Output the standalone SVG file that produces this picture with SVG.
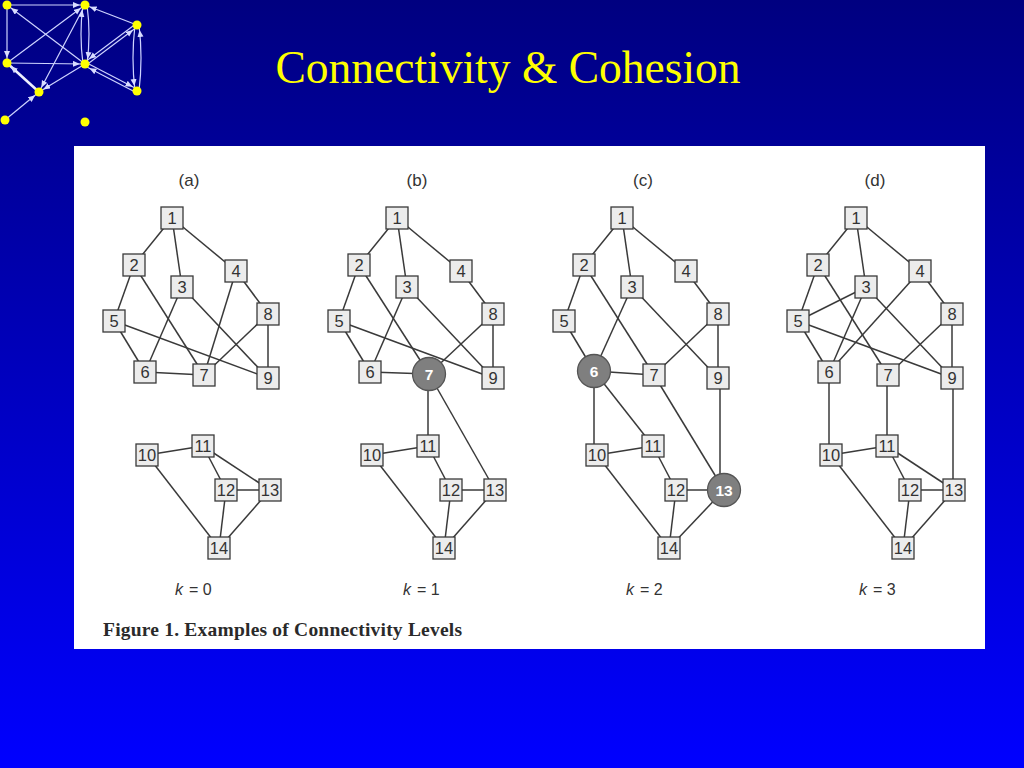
<svg xmlns="http://www.w3.org/2000/svg" width="1024" height="768" viewBox="0 0 1024 768">
<defs>
  <linearGradient id="bg" x1="0" y1="0" x2="0" y2="1">
    <stop offset="0" stop-color="#000080"/>
    <stop offset="1" stop-color="#0000ff"/>
  </linearGradient>
  <marker id="arr" markerUnits="userSpaceOnUse" markerWidth="14" markerHeight="8" refX="12" refY="3" orient="auto">
    <path d="M0,0 L7,3 L0,6 z" fill="#d8dcff"/>
  </marker>
  <style>
    .deco line, .deco path { stroke:#cfd4ff; stroke-width:1.2; fill:none; }
    .dot { fill:#ffff00; }
    .edge line { stroke:#3a3a3a; stroke-width:1.5; }
    .node rect { fill:#ececec; stroke:#3a3a3a; stroke-width:1.3; }
    .node text { font-family:"Liberation Sans", Arial, sans-serif; font-size:16.5px; fill:#333; text-anchor:middle; }
    .hub circle { fill:#7f7f7f; stroke:#555; stroke-width:1.3; }
    .hub text { font-family:"Liberation Sans", Arial, sans-serif; font-size:15.5px; font-weight:bold; fill:#fff; text-anchor:middle; }
    .plabel { font-family:"Liberation Sans", Arial, sans-serif; font-size:17px; fill:#333; text-anchor:middle; }
    .klabel { font-family:"Liberation Sans", Arial, sans-serif; font-size:16px; fill:#333; }
  </style>
</defs>

<rect x="0" y="0" width="1024" height="768" fill="url(#bg)"/>

<!-- decorative network -->
<g id="decoration" class="deco">
  <line x1="7" y1="5" x2="85" y2="5" marker-end="url(#arr)"/>
  <line x1="7" y1="5" x2="7" y2="63" marker-end="url(#arr)"/>
  <line x1="85" y1="64" x2="7" y2="5" marker-end="url(#arr)"/>
  <line x1="7" y1="63" x2="85" y2="5" marker-end="url(#arr)"/>
  <line x1="7" y1="63" x2="85" y2="64" marker-end="url(#arr)"/>
  <line x1="39" y1="92" x2="7" y2="63" style="stroke-width:2.6;stroke:#eef0ff" marker-end="url(#arr)"/>
  <line x1="85" y1="5" x2="39" y2="92" marker-end="url(#arr)"/>
  <path d="M83,64 Q79,34 83,5" marker-end="url(#arr)"/>
  <path d="M87,5 Q91,34 87,64" marker-end="url(#arr)"/>
  <line x1="137" y1="25" x2="85" y2="5" marker-end="url(#arr)"/>
  <line x1="137" y1="23" x2="85" y2="62" marker-end="url(#arr)"/>
  <line x1="85" y1="66" x2="137" y2="27" marker-end="url(#arr)"/>
  <path d="M135,25 Q131,58 135,91" marker-end="url(#arr)"/>
  <path d="M139,91 Q143,58 139,25" marker-end="url(#arr)"/>
  <line x1="85" y1="62" x2="137" y2="89" marker-end="url(#arr)"/>
  <line x1="137" y1="93" x2="85" y2="66" marker-end="url(#arr)"/>
  <line x1="85" y1="64" x2="39" y2="92" marker-end="url(#arr)"/>
  <line x1="5" y1="120" x2="39" y2="92" marker-end="url(#arr)"/>
  <circle class="dot" cx="7" cy="5" r="4.5"/>
  <circle class="dot" cx="85" cy="5" r="4.5"/>
  <circle class="dot" cx="137" cy="25" r="4.5"/>
  <circle class="dot" cx="7" cy="63" r="4.5"/>
  <circle class="dot" cx="85" cy="64" r="4.5"/>
  <circle class="dot" cx="39" cy="92" r="4.5"/>
  <circle class="dot" cx="137" cy="91" r="4.5"/>
  <circle class="dot" cx="5" cy="120" r="4.5"/>
  <circle class="dot" cx="85" cy="122" r="4.5"/>
</g>

<text x="508" y="83" font-family="'Liberation Serif', 'Times New Roman', serif" font-size="45.5" fill="#ffff00" text-anchor="middle">Connectivity &amp; Cohesion</text>

<rect x="74" y="146" width="911" height="503" fill="#ffffff"/>

<!-- Panel (a) -->
<g id="panel-a">
  <text class="plabel" x="189" y="186">(a)</text>
  <g id="a-connectors" class="edge">
    <line x1="172" y1="218" x2="134" y2="265"/>
    <line x1="172" y1="218" x2="182" y2="287"/>
    <line x1="172" y1="218" x2="236" y2="271"/>
    <line x1="134" y1="265" x2="114" y2="321"/>
    <line x1="134" y1="265" x2="204" y2="375"/>
    <line x1="182" y1="287" x2="145" y2="372"/>
    <line x1="182" y1="287" x2="268" y2="378"/>
    <line x1="236" y1="271" x2="204" y2="375"/>
    <line x1="236" y1="271" x2="268" y2="314"/>
    <line x1="114" y1="321" x2="145" y2="372"/>
    <line x1="114" y1="321" x2="268" y2="378"/>
    <line x1="145" y1="372" x2="204" y2="375"/>
    <line x1="268" y1="314" x2="204" y2="375"/>
    <line x1="268" y1="314" x2="268" y2="378"/>
    <line x1="147" y1="455" x2="203" y2="446"/>
    <line x1="147" y1="455" x2="219" y2="548"/>
    <line x1="203" y1="446" x2="226" y2="490"/>
    <line x1="203" y1="446" x2="270" y2="490"/>
    <line x1="226" y1="490" x2="270" y2="490"/>
    <line x1="226" y1="490" x2="219" y2="548"/>
    <line x1="270" y1="490" x2="219" y2="548"/>
  </g>
  <g id="a-n1" class="node"><rect x="161" y="207" width="22" height="22"/><text x="172" y="224">1</text></g>
  <g id="a-n2" class="node"><rect x="123" y="254" width="22" height="22"/><text x="134" y="271">2</text></g>
  <g id="a-n3" class="node"><rect x="171" y="276" width="22" height="22"/><text x="182" y="293">3</text></g>
  <g id="a-n4" class="node"><rect x="225" y="260" width="22" height="22"/><text x="236" y="277">4</text></g>
  <g id="a-n5" class="node"><rect x="103" y="310" width="22" height="22"/><text x="114" y="327">5</text></g>
  <g id="a-n6" class="node"><rect x="134" y="361" width="22" height="22"/><text x="145" y="378">6</text></g>
  <g id="a-n7" class="node"><rect x="193" y="364" width="22" height="22"/><text x="204" y="381">7</text></g>
  <g id="a-n8" class="node"><rect x="257" y="303" width="22" height="22"/><text x="268" y="320">8</text></g>
  <g id="a-n9" class="node"><rect x="257" y="367" width="22" height="22"/><text x="268" y="384">9</text></g>
  <g id="a-n10" class="node"><rect x="136" y="444" width="22" height="22"/><text x="147" y="461">10</text></g>
  <g id="a-n11" class="node"><rect x="192" y="435" width="22" height="22"/><text x="203" y="452">11</text></g>
  <g id="a-n12" class="node"><rect x="215" y="479" width="22" height="22"/><text x="226" y="496">12</text></g>
  <g id="a-n13" class="node"><rect x="259" y="479" width="22" height="22"/><text x="270" y="496">13</text></g>
  <g id="a-n14" class="node"><rect x="208" y="537" width="22" height="22"/><text x="219" y="554">14</text></g>
  <text class="klabel" x="175" y="595"><tspan font-style="italic">k</tspan><tspan x="189">= 0</tspan></text>
</g>

<!-- Panel (b) -->
<g id="panel-b">
  <text class="plabel" x="417" y="186">(b)</text>
  <g transform="translate(225,0)">
  <g id="b-connectors" class="edge">
    <line x1="172" y1="218" x2="134" y2="265"/>
    <line x1="172" y1="218" x2="182" y2="287"/>
    <line x1="172" y1="218" x2="236" y2="271"/>
    <line x1="134" y1="265" x2="114" y2="321"/>
    <line x1="134" y1="265" x2="204" y2="374"/>
    <line x1="182" y1="287" x2="145" y2="372"/>
    <line x1="182" y1="287" x2="268" y2="378"/>
    <line x1="236" y1="271" x2="268" y2="314"/>
    <line x1="114" y1="321" x2="145" y2="372"/>
    <line x1="114" y1="321" x2="268" y2="378"/>
    <line x1="145" y1="372" x2="204" y2="374"/>
    <line x1="268" y1="314" x2="204" y2="374"/>
    <line x1="268" y1="314" x2="268" y2="378"/>
    <line x1="203" y1="374" x2="203" y2="446"/>
    <line x1="204" y1="374" x2="270" y2="490"/>
    <line x1="147" y1="455" x2="203" y2="446"/>
    <line x1="147" y1="455" x2="219" y2="548"/>
    <line x1="203" y1="446" x2="226" y2="490"/>
    <line x1="226" y1="490" x2="270" y2="490"/>
    <line x1="226" y1="490" x2="219" y2="548"/>
    <line x1="270" y1="490" x2="219" y2="548"/>
  </g>
  <g id="b-n1" class="node"><rect x="161" y="207" width="22" height="22"/><text x="172" y="224">1</text></g>
  <g id="b-n2" class="node"><rect x="123" y="254" width="22" height="22"/><text x="134" y="271">2</text></g>
  <g id="b-n3" class="node"><rect x="171" y="276" width="22" height="22"/><text x="182" y="293">3</text></g>
  <g id="b-n4" class="node"><rect x="225" y="260" width="22" height="22"/><text x="236" y="277">4</text></g>
  <g id="b-n5" class="node"><rect x="103" y="310" width="22" height="22"/><text x="114" y="327">5</text></g>
  <g id="b-n6" class="node"><rect x="134" y="361" width="22" height="22"/><text x="145" y="378">6</text></g>
  <g id="b-n7" class="hub"><circle cx="204" cy="374" r="16.5"/><text x="204" y="379.5">7</text></g>
  <g id="b-n8" class="node"><rect x="257" y="303" width="22" height="22"/><text x="268" y="320">8</text></g>
  <g id="b-n9" class="node"><rect x="257" y="367" width="22" height="22"/><text x="268" y="384">9</text></g>
  <g id="b-n10" class="node"><rect x="136" y="444" width="22" height="22"/><text x="147" y="461">10</text></g>
  <g id="b-n11" class="node"><rect x="192" y="435" width="22" height="22"/><text x="203" y="452">11</text></g>
  <g id="b-n12" class="node"><rect x="215" y="479" width="22" height="22"/><text x="226" y="496">12</text></g>
  <g id="b-n13" class="node"><rect x="259" y="479" width="22" height="22"/><text x="270" y="496">13</text></g>
  <g id="b-n14" class="node"><rect x="208" y="537" width="22" height="22"/><text x="219" y="554">14</text></g>
  </g>
  <text class="klabel" x="403" y="595"><tspan font-style="italic">k</tspan><tspan x="417">= 1</tspan></text>
</g>

<!-- Panel (c) -->
<g id="panel-c">
  <text class="plabel" x="643" y="186">(c)</text>
  <g transform="translate(450,0)">
  <g id="c-connectors" class="edge">
    <line x1="172" y1="218" x2="134" y2="265"/>
    <line x1="172" y1="218" x2="182" y2="287"/>
    <line x1="172" y1="218" x2="236" y2="271"/>
    <line x1="134" y1="265" x2="114" y2="321"/>
    <line x1="134" y1="265" x2="204" y2="375"/>
    <line x1="182" y1="287" x2="144" y2="371"/>
    <line x1="182" y1="287" x2="268" y2="378"/>
    <line x1="236" y1="271" x2="268" y2="314"/>
    <line x1="114" y1="321" x2="144" y2="371"/>
    <line x1="144" y1="371" x2="204" y2="375"/>
    <line x1="268" y1="314" x2="204" y2="375"/>
    <line x1="268" y1="314" x2="268" y2="378"/>
    <line x1="144" y1="371" x2="144" y2="455"/>
    <line x1="144" y1="371" x2="203" y2="446"/>
    <line x1="204" y1="375" x2="274" y2="490"/>
    <line x1="270" y1="378" x2="270" y2="490"/>
    <line x1="147" y1="455" x2="203" y2="446"/>
    <line x1="147" y1="455" x2="219" y2="548"/>
    <line x1="203" y1="446" x2="226" y2="490"/>
    <line x1="226" y1="490" x2="274" y2="490"/>
    <line x1="226" y1="490" x2="219" y2="548"/>
    <line x1="274" y1="490" x2="219" y2="548"/>
  </g>
  <g id="c-n1" class="node"><rect x="161" y="207" width="22" height="22"/><text x="172" y="224">1</text></g>
  <g id="c-n2" class="node"><rect x="123" y="254" width="22" height="22"/><text x="134" y="271">2</text></g>
  <g id="c-n3" class="node"><rect x="171" y="276" width="22" height="22"/><text x="182" y="293">3</text></g>
  <g id="c-n4" class="node"><rect x="225" y="260" width="22" height="22"/><text x="236" y="277">4</text></g>
  <g id="c-n5" class="node"><rect x="103" y="310" width="22" height="22"/><text x="114" y="327">5</text></g>
  <g id="c-n6" class="hub"><circle cx="144" cy="371" r="16.5"/><text x="144" y="376.5">6</text></g>
  <g id="c-n7" class="node"><rect x="193" y="364" width="22" height="22"/><text x="204" y="381">7</text></g>
  <g id="c-n8" class="node"><rect x="257" y="303" width="22" height="22"/><text x="268" y="320">8</text></g>
  <g id="c-n9" class="node"><rect x="257" y="367" width="22" height="22"/><text x="268" y="384">9</text></g>
  <g id="c-n10" class="node"><rect x="136" y="444" width="22" height="22"/><text x="147" y="461">10</text></g>
  <g id="c-n11" class="node"><rect x="192" y="435" width="22" height="22"/><text x="203" y="452">11</text></g>
  <g id="c-n12" class="node"><rect x="215" y="479" width="22" height="22"/><text x="226" y="496">12</text></g>
  <g id="c-n13" class="hub"><circle cx="274" cy="490" r="16.5"/><text x="274" y="495.5">13</text></g>
  <g id="c-n14" class="node"><rect x="208" y="537" width="22" height="22"/><text x="219" y="554">14</text></g>
  </g>
  <text class="klabel" x="626" y="595"><tspan font-style="italic">k</tspan><tspan x="640">= 2</tspan></text>
</g>

<!-- Panel (d) -->
<g id="panel-d">
  <text class="plabel" x="875" y="186">(d)</text>
  <g transform="translate(684,0)">
  <g id="d-connectors" class="edge">
    <line x1="172" y1="218" x2="134" y2="265"/>
    <line x1="172" y1="218" x2="182" y2="287"/>
    <line x1="172" y1="218" x2="236" y2="271"/>
    <line x1="134" y1="265" x2="114" y2="321"/>
    <line x1="134" y1="265" x2="204" y2="375"/>
    <line x1="182" y1="287" x2="114" y2="321"/>
    <line x1="182" y1="287" x2="145" y2="372"/>
    <line x1="182" y1="287" x2="268" y2="378"/>
    <line x1="236" y1="271" x2="145" y2="372"/>
    <line x1="236" y1="271" x2="268" y2="314"/>
    <line x1="114" y1="321" x2="145" y2="372"/>
    <line x1="114" y1="321" x2="268" y2="378"/>
    <line x1="268" y1="314" x2="204" y2="375"/>
    <line x1="268" y1="314" x2="268" y2="378"/>
    <line x1="145" y1="372" x2="145" y2="455"/>
    <line x1="203" y1="375" x2="203" y2="446"/>
    <line x1="269" y1="378" x2="269" y2="490"/>
    <line x1="147" y1="455" x2="203" y2="446"/>
    <line x1="147" y1="455" x2="219" y2="548"/>
    <line x1="203" y1="446" x2="226" y2="490"/>
    <line x1="203" y1="446" x2="270" y2="490"/>
    <line x1="226" y1="490" x2="270" y2="490"/>
    <line x1="226" y1="490" x2="219" y2="548"/>
    <line x1="270" y1="490" x2="219" y2="548"/>
  </g>
  <g id="d-n1" class="node"><rect x="161" y="207" width="22" height="22"/><text x="172" y="224">1</text></g>
  <g id="d-n2" class="node"><rect x="123" y="254" width="22" height="22"/><text x="134" y="271">2</text></g>
  <g id="d-n3" class="node"><rect x="171" y="276" width="22" height="22"/><text x="182" y="293">3</text></g>
  <g id="d-n4" class="node"><rect x="225" y="260" width="22" height="22"/><text x="236" y="277">4</text></g>
  <g id="d-n5" class="node"><rect x="103" y="310" width="22" height="22"/><text x="114" y="327">5</text></g>
  <g id="d-n6" class="node"><rect x="134" y="361" width="22" height="22"/><text x="145" y="378">6</text></g>
  <g id="d-n7" class="node"><rect x="193" y="364" width="22" height="22"/><text x="204" y="381">7</text></g>
  <g id="d-n8" class="node"><rect x="257" y="303" width="22" height="22"/><text x="268" y="320">8</text></g>
  <g id="d-n9" class="node"><rect x="257" y="367" width="22" height="22"/><text x="268" y="384">9</text></g>
  <g id="d-n10" class="node"><rect x="136" y="444" width="22" height="22"/><text x="147" y="461">10</text></g>
  <g id="d-n11" class="node"><rect x="192" y="435" width="22" height="22"/><text x="203" y="452">11</text></g>
  <g id="d-n12" class="node"><rect x="215" y="479" width="22" height="22"/><text x="226" y="496">12</text></g>
  <g id="d-n13" class="node"><rect x="259" y="479" width="22" height="22"/><text x="270" y="496">13</text></g>
  <g id="d-n14" class="node"><rect x="208" y="537" width="22" height="22"/><text x="219" y="554">14</text></g>
  </g>
  <text class="klabel" x="859" y="595"><tspan font-style="italic">k</tspan><tspan x="873">= 3</tspan></text>
</g>

<text x="103" y="636" font-family="'Liberation Serif', 'Times New Roman', serif" font-size="19.5" font-weight="bold" fill="#2a2a2a" textLength="359" lengthAdjust="spacing">Figure 1. Examples of Connectivity Levels</text>
</svg>
